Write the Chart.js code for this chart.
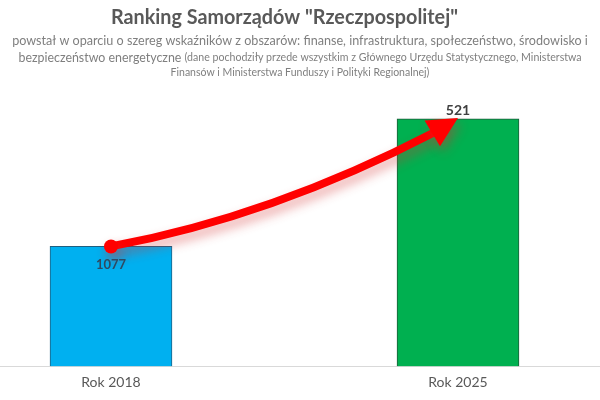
<!DOCTYPE html>
<html lang="pl">
<head>
<meta charset="utf-8">
<script src="https://cdn.jsdelivr.net/npm/chart.js@4.4.1/dist/chart.umd.min.js"></script>
<style>
  html, body { margin: 0; padding: 0; background: #fff; }
  #wrap { width: 600px; height: 400px; position: relative; }
</style>
</head>
<body>
<div id="wrap"><canvas id="rank-canvas"></canvas></div>
<script>
// Ranking Samorządów – 2018 vs 2025 (lower rank = better, so bars show inverse rank).

const categories = ['Rok 2018', 'Rok 2025'];
const rankLabels = ['1077', '521'];
// bar heights as drawn (inverse rank ×1000)
const barValues = [0.93, 1.92];
const barColors = ['#00b0f0', '#00b050'];
const barBorders = ['#1f5f80', '#1e5a3a'];

const titleText = 'Ranking Samorządów "Rzeczpospolitej"';
const subLine1 = 'powstał w oparciu o szereg wskaźników z obszarów: finanse, infrastruktura, społeczeństwo, środowisko i';
const subLine2a = 'bezpieczeństwo energetyczne ';
const subLine2b = '(dane pochodziły przede wszystkim z Głównego Urzędu Statystycznego, Ministerstwa';
const subLine3 = 'Finansów i Ministerstwa Funduszy i Polityki Regionalnej)';

const FONT = 'Lato, "Open Sans", sans-serif';

// subtitle lines with mixed sizes
const subtitlePlugin = {
  id: 'mixedSubtitle',
  afterDraw(chart) {
    const ctx = chart.ctx;
    const cx = chart.width / 2;
    ctx.save();
    ctx.fillStyle = '#7f7f7f';
    ctx.textBaseline = 'middle';
    ctx.textAlign = 'center';
    ctx.font = '12.6px ' + FONT;
    ctx.fillText(subLine1, cx, 41);

    ctx.textAlign = 'left';
    ctx.font = '12.4px ' + FONT;
    const wa = ctx.measureText(subLine2a).width;
    ctx.font = '10.6px ' + FONT;
    const wb = ctx.measureText(subLine2b).width;
    const x = cx - (wa + wb) / 2;
    ctx.font = '12.4px ' + FONT;
    ctx.fillText(subLine2a, x, 58);
    ctx.font = '10.6px ' + FONT;
    ctx.fillText(subLine2b, x + wa, 58);

    ctx.font = '10.5px ' + FONT;
    ctx.textAlign = 'center';
    ctx.fillText(subLine3, cx, 73);
    ctx.restore();
  },
};

// baseline across the full width
const baselinePlugin = {
  id: 'baseline',
  beforeDatasetsDraw(chart) {
    const y = chart.scales.y.getPixelForValue(0);
    const ctx = chart.ctx;
    ctx.save();
    ctx.strokeStyle = '#d9d9d9';
    ctx.lineWidth = 1;
    ctx.beginPath();
    ctx.moveTo(0, Math.round(y) + 0.5);
    ctx.lineTo(chart.width, Math.round(y) + 0.5);
    ctx.stroke();
    ctx.restore();
  },
};

// red curved arrow from the 2018 bar to the 2025 bar, plus rank labels
const arrowPlugin = {
  id: 'arrow',
  afterDatasetsDraw(chart) {
    const bars = chart.getDatasetMeta(0).data;
    const a = bars[0], b = bars[1];
    const x0 = a.x, y0 = a.y;
    const tx = b.x, ty = b.y - 1;        // arrow tip
    const sx = tx - 25, sy = ty + 15;    // end of shaft (base of head)
    const cx = (x0 + sx) / 2, cy = y0 - 30;
    const ctx = chart.ctx;

    ctx.save();
    ctx.shadowColor = 'rgba(210,50,50,0.45)';
    ctx.shadowBlur = 11;
    ctx.shadowOffsetX = 3;
    ctx.shadowOffsetY = 6;
    ctx.strokeStyle = '#ff0000';
    ctx.fillStyle = '#ff0000';
    ctx.lineWidth = 8;
    ctx.lineCap = 'round';

    ctx.beginPath();
    ctx.moveTo(x0, y0);
    ctx.quadraticCurveTo(cx, cy, sx + 2, sy - 1);
    ctx.stroke();

    const ang = Math.atan2(ty - sy, tx - sx);
    const headLen = 30, headW = 15;
    ctx.beginPath();
    ctx.moveTo(tx, ty);
    ctx.lineTo(tx - Math.cos(ang) * headLen - Math.sin(ang) * headW,
               ty - Math.sin(ang) * headLen + Math.cos(ang) * headW);
    ctx.lineTo(tx - Math.cos(ang) * headLen + Math.sin(ang) * headW,
               ty - Math.sin(ang) * headLen - Math.cos(ang) * headW);
    ctx.closePath();
    ctx.fill();

    ctx.beginPath();
    ctx.arc(x0, y0, 7, 0, Math.PI * 2);
    ctx.fill();
    ctx.restore();

    // rank labels
    ctx.save();
    ctx.textAlign = 'center';
    ctx.textBaseline = 'middle';
    ctx.font = 'bold 13px ' + FONT;
    ctx.fillStyle = '#2e4a62';
    ctx.fillText(rankLabels[0], a.x, a.y + 18);
    ctx.font = 'bold 14px ' + FONT;
    ctx.fillStyle = '#404040';
    ctx.fillText(rankLabels[1], b.x, b.y - 8);
    ctx.restore();
  },
};

new Chart(document.getElementById('rank-canvas'), {
  type: 'bar',
  data: {
    labels: categories,
    datasets: [{
      data: barValues,
      backgroundColor: barColors,
      borderColor: barBorders,
      borderWidth: 1,
      borderSkipped: 'bottom',
      barThickness: 122,
      clip: false,
    }],
  },
  options: {
    responsive: true,
    maintainAspectRatio: false,
    animation: false,
    layout: { padding: { left: 111, right: 142, top: 0, bottom: 9 } },
    plugins: {
      legend: { display: false },
      tooltip: { enabled: false },
      title: {
        display: true,
        text: titleText,
        color: '#595959',
        font: { family: FONT, size: 20.5, weight: 'bold' },
        padding: { top: 5, bottom: 52 },
      },
    },
    scales: {
      x: {
        offset: false,
        grid: { display: false },
        border: { display: false },
        ticks: { color: '#595959', font: { family: FONT, size: 14 }, padding: 0 },
      },
      y: {
        display: false,
        min: 0,
        max: 2.21,
      },
    },
  },
  plugins: [subtitlePlugin, baselinePlugin, arrowPlugin],
});
</script>
</body>
</html>
